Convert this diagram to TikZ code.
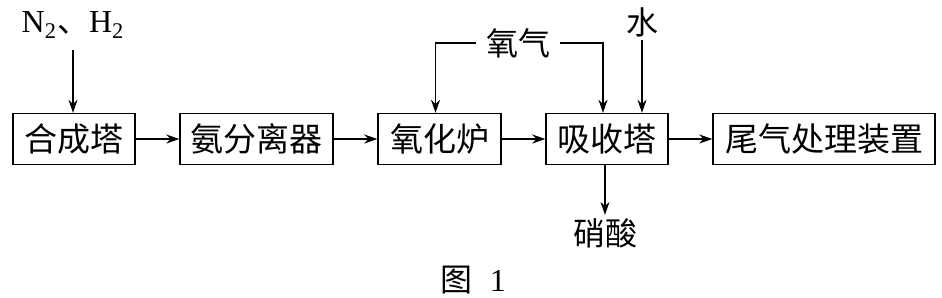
\documentclass[tikz,border=0pt]{standalone}
\usepackage{fontspec}
\setmainfont{Liberation Serif}
\newfontfamily\cjk{Noto Sans CJK SC}
\usetikzlibrary{arrows.meta}

\begin{document}
\begin{tikzpicture}[x=0.5pt,y=-0.5pt,
    box/.style={draw,line width=0.7pt,minimum height=25.5pt,inner sep=0pt,font=\cjk\fontsize{16.5}{18}\selectfont},
    lbl/.style={inner sep=1.5pt,font=\cjk\fontsize{16}{18}\selectfont},
    arr/.style={line width=0.7pt,-{Stealth[length=6.5pt,width=4.5pt]}}]
  \useasboundingbox (0,0) rectangle (942,297);
  % process chain
  \node[box,minimum width=61pt]  (syn)  at (74,139)    {合成塔};
  \node[box,minimum width=76.5pt](sep)  at (256.5,139) {氨分离器};
  \node[box,minimum width=61.5pt](oxid) at (439.5,139) {氧化炉};
  \node[box,minimum width=61pt]  (abs)  at (607,139)   {吸收塔};
  \node[box,minimum width=111pt] (tail) at (824,139)   {尾气处理装置};
  \draw[arr] (syn) -- (sep);
  \draw[arr] (sep) -- (oxid);
  \draw[arr] (oxid) -- (abs);
  \draw[arr] (abs) -- (tail);
  % feeds and product
  \node[inner sep=1pt,font=\fontsize{16}{18}\selectfont] (feed) at (73,25) {N\textsubscript{2}{\cjk 、}H\textsubscript{2}};
  \draw[arr] ([yshift=-5]feed.south) -- (feed.south |- syn.north);
  \node[lbl,inner xsep=5pt] (oxy) at (518,43) {氧气};
  \draw[arr] (oxy.west) -| ([xshift=-2]oxid.north);
  \draw[arr] (oxy.east) -| ([xshift=-2]abs.north);
  \node[lbl] (water) at (642,22) {水};
  \draw[arr] (water.south) -- (water.south |- abs.north);
  \node[lbl] (acid) at (605,233) {硝酸};
  \draw[arr] (acid.north |- abs.south) -- (acid.north);
  % caption
  \node[lbl] (cap) at (473,280) {图\hspace{0.55em}{\rmfamily 1}};
\end{tikzpicture}
\end{document}
